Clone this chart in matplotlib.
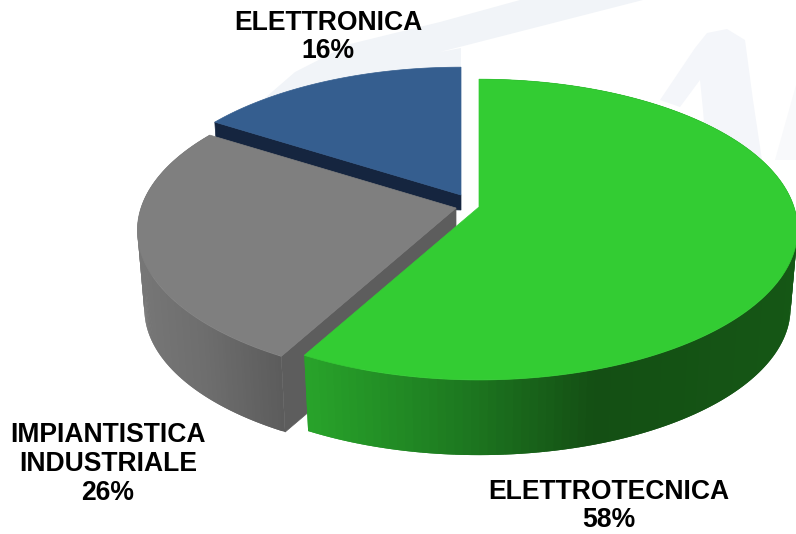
import numpy as np
import matplotlib
matplotlib.use("Agg")
import matplotlib.pyplot as plt

labels = ["ELETTROTECNICA\n58%", "IMPIANTISTICA\nINDUSTRIALE\n26%", "ELETTRONICA\n16%"]
shares = [58, 26, 16]
top_cols = ["#33cc33", "#7f7f7f", "#355e8f"]
wall_cols = [None, "#5d5d5d", "#15253f"]

# piece centres after the explosion, px
APEX = [(479, 207), (456, 208), (461, 195)]
RX, RY, K = 315, 147, 0.15   # disc radii and perspective
DEPTH, SHRINK = 79, 0.978

# wall shading, colour against px position
GREEN_X = [305, 460, 590, 800]
GREEN_RGB = [(0x28, 0xa3, 0x2a), (0x1d, 0x78, 0x20), (0x14, 0x4f, 0x14), (0x15, 0x57, 0x15)]
GRAY_X = [140, 200, 280]
GRAY_RGB = [(0x76, 0x76, 0x76), (0x6e, 0x6e, 0x6e), (0x5c, 0x5c, 0x5c)]

plt.rcParams["font.family"] = ["Liberation Sans", "DejaVu Sans"]


def proj(apex, ang, low=False):
    X = np.cos(ang)
    Y = np.sin(ang)
    d = 1 + K * Y
    px = RX * X / d
    py = -RY * Y / d
    if low:
        return apex[0] + px * SHRINK, apex[1] + py * SHRINK + DEPTH
    return apex[0] + px, apex[1] + py


def ramp(x, xs, rgb):
    return tuple(np.interp(x, xs, [c[i] for c in rgb]) / 255 for i in range(3))


def wall(ax, apex, a0, a1, xs, rgb, z):
    # outer wall as strips, each overlaps the next so no seams show
    edges = np.linspace(a0, a1, 160)
    for i in range(len(edges) - 1):
        a = edges[i]
        b = edges[min(i + 2, len(edges) - 1)]
        x0, y0 = proj(apex, a)
        x1, y1 = proj(apex, b)
        x2, y2 = proj(apex, b, low=True)
        x3, y3 = proj(apex, a, low=True)
        c = ramp((x0 + x1) / 2, xs, rgb)
        ax.fill([x0, x1, x2, x3], [y0, y1, y2, y3], color=c, lw=0, zorder=z)


def top(ax, apex, a0, a1, col, z):
    t = np.linspace(a0, a1, 200)
    x, y = proj(apex, t)
    ax.fill(np.r_[apex[0], x], np.r_[apex[1], y], color=col, lw=0.5, zorder=z)


fig = plt.figure(figsize=(7.96, 5.34), dpi=100)
ax = fig.add_axes([0, 0, 1, 1])
ax.set_xlim(0, 796)
ax.set_ylim(534, 0)
ax.axis("off")

# faint watermark behind the pie
ax.fill([643, 520, 440, 350, 295, 265, 300, 461, 461, 440],
        [0, 0, 22, 44, 72, 98, 110, 110, 48, 52], color="#f1f4f8", lw=0, zorder=0)
ax.fill([660, 695, 707, 727, 745, 753, 762, 707, 703, 700, 680],
        [100, 48, 33, 29, 40, 100, 160, 160, 110, 80, 107], color="#f4f6fa", lw=0, zorder=0)
ax.fill([775, 796, 796], [160, 85, 160], color="#f8f9fb", lw=0, zorder=0)

# angles run clockwise from twelve o'clock
fr = np.array(shares) / sum(shares)
bounds = np.pi / 2 - 2 * np.pi * np.r_[0, np.cumsum(fr)]

# blue: only the cut face shows, gray sits over the rest of it
a0, a1 = bounds[2], bounds[3]
px, py = proj(APEX[2], a0)
lx, ly = proj(APEX[2], a0, low=True)
ax.fill([APEX[2][0], px, lx, APEX[2][0]], [APEX[2][1], py, ly, APEX[1][1] + 2],
        color=wall_cols[2], lw=0.5, zorder=1)
top(ax, APEX[2], a0, a1, top_cols[2], 2)

# gray
a0, a1 = bounds[1], bounds[2]
wall(ax, APEX[1], a0, a1, GRAY_X, GRAY_RGB, 3)
px, py = proj(APEX[1], a0)
lx, ly = proj(APEX[1], a0, low=True)
ax.fill([APEX[1][0], px, lx, APEX[1][0]], [APEX[1][1], py, ly, APEX[1][1] + DEPTH],
        color=wall_cols[1], lw=0.5, zorder=3)
top(ax, APEX[1], a0, a1, top_cols[1], 4)

# green
a0, a1 = bounds[0], bounds[1]
wall(ax, APEX[0], a0, a1, GREEN_X, GREEN_RGB, 5)
top(ax, APEX[0], a0, a1, top_cols[0], 6)

ax.text(609, 506, labels[0], ha="center", va="center", fontsize=19.1, fontweight="bold", linespacing=1.13, zorder=7)
ax.text(108, 464, labels[1], ha="center", va="center", fontsize=19.1, fontweight="bold", linespacing=1.17, zorder=7)
ax.text(328, 37, labels[2], ha="center", va="center", fontsize=19.1, fontweight="bold", linespacing=1.11, zorder=7)

fig.savefig("out.png", dpi=100)
